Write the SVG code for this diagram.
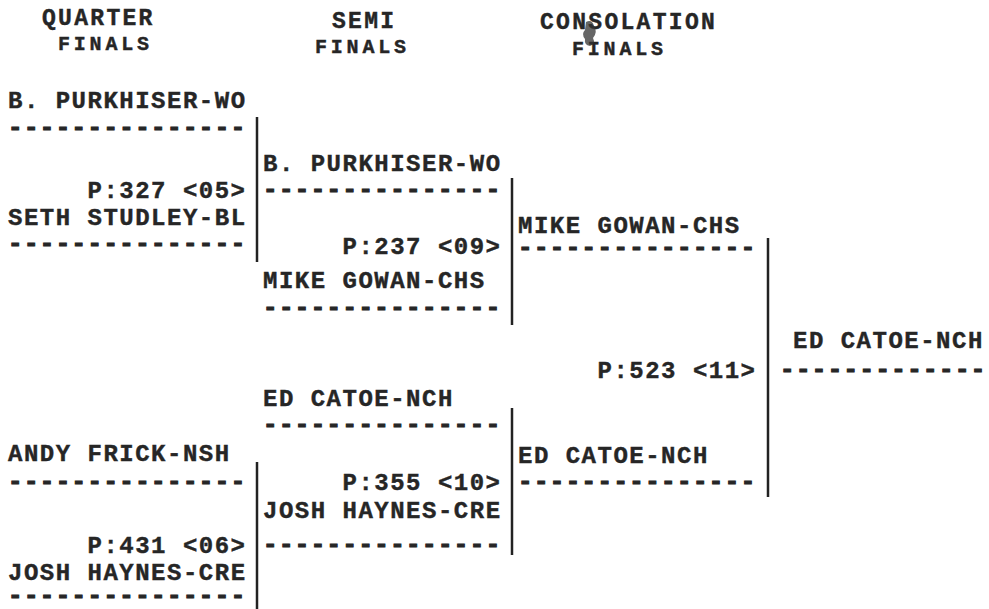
<svg xmlns="http://www.w3.org/2000/svg" width="989" height="609" viewBox="0 0 989 609">
<style>
.t{font-family:"Liberation Mono","DejaVu Sans Mono",monospace;font-weight:bold;font-size:24px;letter-spacing:1.5px;fill:#262626;stroke:#262626;stroke-width:0.4px}
.d{stroke-width:1.1px}
.h{font-family:"Liberation Mono","DejaVu Sans Mono",monospace;font-weight:bold;font-size:23px;letter-spacing:2.3px;fill:#262626;stroke:#262626;stroke-width:0.4px}
.h2{font-family:"Liberation Mono","DejaVu Sans Mono",monospace;font-weight:bold;font-size:20px;letter-spacing:3.8px;fill:#262626;stroke:#262626;stroke-width:0.4px}
.c line{stroke:#222;stroke-width:2.5}
</style>
<rect width="989" height="609" fill="#fff"/>
<g id="headers">
<text class="h" x="42" y="25">QUARTER</text>
<text class="h2" x="58" y="50">FINALS</text>
<text class="h" x="332" y="28">SEMI</text>
<text class="h2" x="315" y="53">FINALS</text>
<text class="h" x="540" y="29">CONSOLATION</text>
<text class="h2" x="572" y="55">FINALS</text>
<path d="M586 22 q6 -3 8 4 q4 6 -1 12 q3 6 -3 8 q-6 -1 -5 -7 q-4 -5 0 -9 z" fill="#333" opacity="0.75"/>
</g>
<g id="connectors" class="c">
<line x1="257" y1="117" x2="257" y2="262"/>
<line x1="257" y1="462" x2="257" y2="609"/>
<line x1="512" y1="178" x2="512" y2="325"/>
<line x1="512" y1="408" x2="512" y2="555"/>
<line x1="768" y1="238" x2="768" y2="497"/>
</g>
<g id="qf1">
<text class="t" x="8" y="108">B. PURKHISER-WO</text>
<text class="t d" x="8" y="135">---------------</text>
</g>
<g id="qf2">
<text class="t" x="87.5" y="198">P:327 &lt;05&gt;</text>
<text class="t" x="8" y="225">SETH STUDLEY-BL</text>
<text class="t d" x="8" y="251">---------------</text>
</g>
<g id="qf3">
<text class="t" x="8" y="461">ANDY FRICK-NSH</text>
<text class="t d" x="8" y="489">---------------</text>
</g>
<g id="qf4">
<text class="t" x="87.5" y="553">P:431 &lt;06&gt;</text>
<text class="t" x="8" y="580">JOSH HAYNES-CRE</text>
<text class="t d" x="8" y="603">---------------</text>
</g>
<g id="sf1">
<text class="t" x="263" y="171">B. PURKHISER-WO</text>
<text class="t d" x="263" y="197">---------------</text>
</g>
<g id="sf2">
<text class="t" x="342.5" y="254">P:237 &lt;09&gt;</text>
<text class="t" x="263" y="288">MIKE GOWAN-CHS</text>
<text class="t d" x="263" y="315">---------------</text>
</g>
<g id="sf3">
<text class="t" x="263" y="406">ED CATOE-NCH</text>
<text class="t d" x="263" y="432">---------------</text>
</g>
<g id="sf4">
<text class="t" x="342.5" y="490">P:355 &lt;10&gt;</text>
<text class="t" x="263" y="518">JOSH HAYNES-CRE</text>
<text class="t d" x="263" y="552">---------------</text>
</g>
<g id="cf1">
<text class="t" x="518" y="233">MIKE GOWAN-CHS</text>
<text class="t d" x="518" y="255">---------------</text>
</g>
<g id="cf2">
<text class="t" x="597.5" y="378">P:523 &lt;11&gt;</text>
<text class="t" x="518" y="463">ED CATOE-NCH</text>
<text class="t d" x="518" y="489">---------------</text>
</g>
<g id="final">
<text class="t" x="793" y="348">ED CATOE-NCH</text>
<text class="t d" x="780" y="377">-------------</text>
</g>
</svg>
